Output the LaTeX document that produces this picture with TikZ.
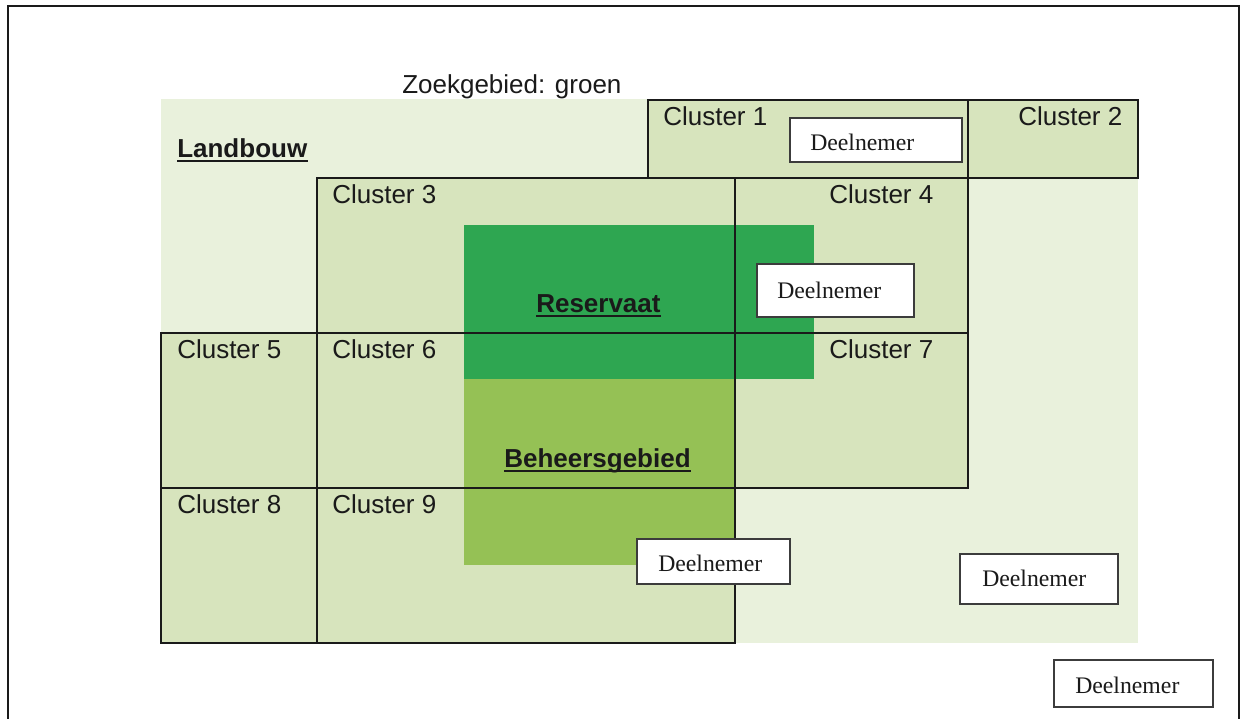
\documentclass[tikz,border=0pt]{standalone}
\usepackage{fontspec}
\setmainfont{Liberation Sans}
\newfontfamily\tms{Liberation Serif}
\definecolor{zoek}{HTML}{E9F1DC}
\definecolor{clus}{HTML}{D7E4BD}
\definecolor{resv}{HTML}{2EA651}
\definecolor{behr}{HTML}{95C155}
\definecolor{ink}{HTML}{1A1A1A}
\begin{document}
\begin{tikzpicture}[x=0.75pt,y=-0.75pt,
  lbl/.style={anchor=base west,inner sep=0pt,text=ink,font=\fontsize{19.5}{23}\selectfont},
  blbl/.style={lbl,font=\fontsize{19.5}{23}\selectfont\bfseries},
  grid/.style={draw=ink,line width=1.9pt},
  dbox/.style={draw=ink!85,fill=white,line width=1.6pt},
  dtxt/.style={anchor=base west,inner sep=0pt,text=ink,font=\tms\fontsize{17.8}{21}\selectfont}]
\useasboundingbox (0,0) rectangle (1244,718);
% outer frame
\draw[ink,line width=1.9pt] (8,730) -- (8,6) -- (1239,6) -- (1239,730);
% zoekgebied
\fill[zoek] (161,99) rectangle (1138,643);
% cluster fills
\fill[clus] (648,100) rectangle (1138,178);
\fill[clus] (317,178) rectangle (968,488);
\fill[clus] (161,333) rectangle (317,643);
\fill[clus] (317,488) rectangle (735,643);
% reservaat and beheersgebied
\fill[resv] (464,225) rectangle (814,379);
\fill[behr] (464,379) rectangle (735,565);
% cluster outlines
\draw[grid] (648,100) rectangle (968,178);
\draw[grid] (968,100) rectangle (1138,178);
\draw[grid] (317,178) rectangle (735,333);
\draw[grid] (735,178) rectangle (968,333);
\draw[grid] (161,333) rectangle (317,488);
\draw[grid] (317,333) rectangle (735,488);
\draw[grid] (735,333) rectangle (968,488);
\draw[grid] (161,488) rectangle (317,643);
\draw[grid] (317,488) rectangle (735,643);
% cluster labels
\node[lbl] (c1) at (663,125) {Cluster 1};
\node[lbl] (c2) at (1018,125) {Cluster 2};
\node[lbl] (c3) at (332,203) {Cluster 3};
\node[lbl] (c4) at (829,203) {Cluster 4};
\node[lbl] (c5) at (177,358) {Cluster 5};
\node[lbl] (c6) at (332,358) {Cluster 6};
\node[lbl] (c7) at (829,358) {Cluster 7};
\node[lbl] (c8) at (177,513) {Cluster 8};
\node[lbl] (c9) at (332,513) {Cluster 9};
% area labels
\node[lbl] (zoek) at (402,93) {Zoekgebied: groen};
\node[blbl] (land) at (177,157) {Landbouw};
\node[blbl] (res) at (536,312) {Reservaat};
\node[blbl] (beh) at (504,467) {Beheersgebied};
\foreach \n in {land,res,beh}
  \draw[ink,line width=2.2pt] ([yshift=-3pt]\n.base west) -- ([yshift=-3pt]\n.base east);
% deelnemers
\draw[dbox] (790,118) rectangle (962,162);
\node[dtxt] (d1) at (810,150) {Deelnemer};
\draw[dbox] (757,264) rectangle (914,317);
\node[dtxt] (d2) at (777,298) {Deelnemer};
\draw[dbox] (637,539) rectangle (790,584);
\node[dtxt] (d3) at (658,571) {Deelnemer};
\draw[dbox] (960,554) rectangle (1118,604);
\node[dtxt] (d4) at (982,586) {Deelnemer};
\draw[dbox] (1054,660) rectangle (1213,707);
\node[dtxt] (d5) at (1075,693) {Deelnemer};
\end{tikzpicture}
\end{document}
